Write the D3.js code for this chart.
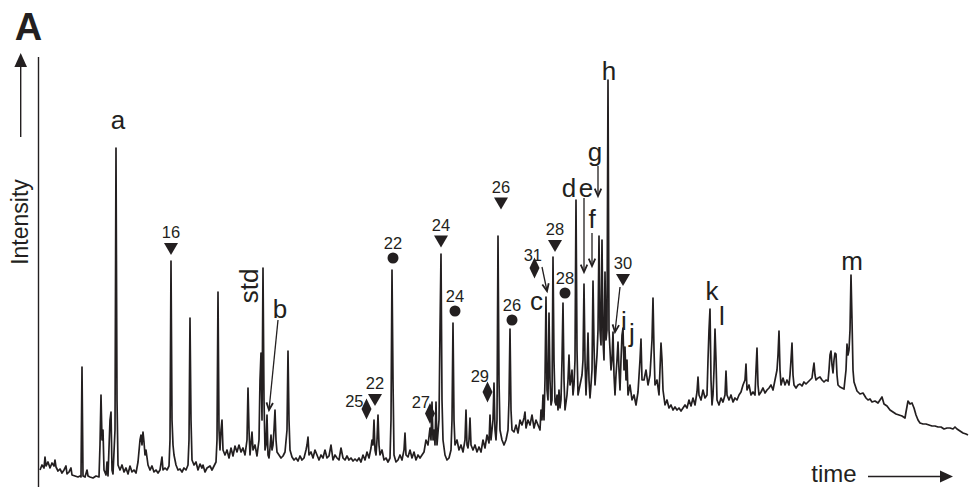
<!DOCTYPE html>
<html><head><meta charset="utf-8">
<script src="https://cdn.jsdelivr.net/npm/d3@7"></script>
<style>
body{margin:0;background:#fff}
svg{display:block}
text{font-family:"Liberation Sans",Arial,Helvetica,sans-serif;fill:#231f20}
</style>
</head><body>
<svg id="chart" width="975" height="489"></svg>
<script>
// Chromatogram trace: [retention time (scan units), intensity (a.u.)]
const trace = [
[2,20],[4,25],[6,22],[7,33],[8,24],[10,28],[12,22],[14,27],[16,24],[17,30],[18,23],[20,19],[22,21],[24,17],[26,20],[28,24],[29,16],[31,18],[33,22],[34,15],[37,14],[40,13],[42,14],[43,13],[44,123],[45,14],[47,13],[49,20],[50,14],[52,13],[55,12],[58,14],[61,13],[62,45],[63,95],[64,50],[65,60],[66,20],[68,15],[69,28],[70,14],[72,70],[73,78],[74,20],[75,16],[77,60],[78,342],[79,90],[80,25],[82,20],[84,25],[86,18],[88,22],[90,16],[92,24],[94,18],[96,20],[98,17],[100,28],[102,50],[103,55],[104,45],[105,58],[106,48],[107,35],[108,40],[110,25],[112,20],[114,24],[116,18],[118,20],[120,17],[122,20],[124,33],[125,20],[127,22],[129,20],[131,24],[132,50],[133,229],[134,70],[135,45],[136,35],[138,25],[140,20],[142,21],[144,18],[146,22],[148,20],[150,25],[151,50],[152,172],[153,70],[154,30],[156,25],[158,28],[160,20],[162,26],[164,22],[165,25],[167,18],[169,22],[172,24],[174,20],[176,24],[178,28],[179,50],[180,198],[181,60],[182,40],[183,60],[184,70],[185,40],[187,35],[189,40],[191,32],[193,42],[195,34],[197,44],[199,38],[201,45],[203,38],[205,42],[207,35],[209,50],[210,102],[211,60],[212,35],[214,58],[215,40],[217,45],[219,34],[221,50],[222,110],[223,137],[224,70],[225,222],[226,90],[227,40],[228,45],[229,75],[230,35],[231,32],[232,42],[233,55],[234,40],[235,45],[236,60],[237,80],[238,50],[239,38],[241,35],[243,32],[245,34],[247,38],[249,60],[250,139],[251,70],[252,40],[254,33],[256,30],[258,32],[260,29],[262,34],[264,30],[266,32],[268,40],[269,45],[270,53],[271,35],[273,38],[275,32],[277,40],[279,35],[281,30],[283,35],[285,32],[287,40],[289,32],[291,34],[293,45],[295,30],[297,35],[299,32],[301,30],[303,42],[305,32],[307,30],[309,34],[311,30],[313,32],[315,29],[317,31],[319,29],[321,32],[323,28],[325,35],[327,30],[329,38],[331,32],[333,42],[334,50],[335,45],[336,70],[337,40],[338,35],[339,50],[340,75],[341,45],[342,35],[344,40],[346,30],[348,32],[350,28],[352,32],[353,70],[354,220],[355,110],[356,35],[358,28],[360,30],[362,35],[364,30],[366,40],[367,57],[368,35],[370,33],[372,40],[374,32],[376,38],[378,30],[380,35],[382,32],[384,35],[386,38],[388,50],[390,45],[392,62],[393,50],[394,88],[395,50],[396,60],[397,45],[398,88],[399,45],[401,70],[402,160],[403,236],[404,90],[405,50],[407,35],[409,30],[411,32],[413,40],[414,70],[415,167],[416,70],[417,45],[419,50],[421,40],[423,45],[425,38],[427,50],[428,80],[429,45],[430,42],[431,50],[432,72],[433,45],[435,40],[437,45],[439,38],[441,43],[443,38],[445,50],[447,42],[449,55],[451,47],[452,75],[453,50],[454,60],[455,70],[456,107],[457,60],[458,50],[459,70],[460,254],[461,110],[462,60],[464,50],[466,45],[468,50],[470,60],[471,90],[472,161],[473,80],[474,60],[476,58],[478,65],[480,57],[482,70],[484,65],[486,72],[487,78],[488,62],[490,70],[492,65],[494,75],[496,62],[498,70],[500,65],[502,60],[503,80],[504,70],[505,95],[506,70],[507,110],[508,193],[509,100],[510,90],[511,177],[512,110],[513,85],[514,90],[515,233],[516,130],[517,88],[518,85],[519,95],[520,80],[521,100],[522,82],[523,90],[524,130],[525,187],[526,110],[527,80],[529,95],[530,110],[531,135],[532,105],[533,110],[534,120],[535,95],[536,105],[537,130],[538,290],[539,140],[540,95],[541,100],[542,105],[544,115],[545,130],[546,206],[547,130],[548,95],[549,120],[550,157],[551,110],[552,92],[553,105],[554,120],[555,209],[556,145],[557,105],[558,120],[559,135],[560,160],[561,254],[562,160],[563,145],[564,250],[565,150],[566,130],[567,218],[568,150],[569,160],[570,410],[571,160],[572,140],[573,120],[574,130],[575,158],[576,115],[577,95],[578,115],[579,130],[580,148],[581,120],[582,100],[583,130],[584,155],[585,162],[586,120],[587,143],[588,110],[589,130],[590,95],[592,105],[594,90],[596,95],[598,85],[600,98],[602,130],[603,151],[604,110],[606,110],[608,120],[610,105],[612,115],[614,150],[615,192],[616,140],[617,105],[619,110],[621,95],[623,147],[624,130],[625,100],[627,85],[629,90],[631,82],[633,85],[635,80],[637,83],[639,80],[641,82],[643,79],[645,82],[647,85],[649,82],[651,90],[653,84],[655,92],[657,85],[659,98],[660,113],[661,95],[663,90],[665,100],[667,92],[669,95],[670,130],[671,160],[672,181],[673,110],[674,85],[675,95],[676,120],[677,161],[678,130],[679,90],[681,85],[683,92],[685,88],[687,95],[688,119],[689,95],[691,90],[693,95],[695,88],[697,92],[699,90],[701,95],[703,98],[705,105],[707,110],[708,126],[709,100],[711,105],[713,95],[715,98],[717,95],[718,120],[719,142],[720,105],[721,95],[723,98],[725,102],[727,97],[729,100],[731,102],[733,105],[735,100],[737,110],[739,120],[740,135],[741,159],[742,120],[743,105],[745,112],[747,105],[749,110],[751,105],[752,115],[753,130],[754,147],[755,115],[756,105],[758,102],[760,105],[762,106],[764,104],[766,108],[768,106],[770,108],[772,110],[774,112],[775,120],[776,127],[777,115],[778,110],[780,112],[782,113],[784,110],[786,108],[788,110],[790,109],[791,120],[792,135],[793,139],[794,125],[795,117],[796,130],[797,137],[798,136],[799,115],[800,105],[802,103],[804,102],[806,101],[808,120],[809,146],[810,135],[811,140],[812,160],[813,215],[814,170],[815,120],[816,108],[817,105],[819,99],[822,96],[825,97],[828,92],[830,90],[832,91],[834,88],[837,89],[840,87],[842,90],[844,93],[846,86],[849,84],[852,80],[855,78],[858,76],[861,75],[864,74],[867,72],[868,78],[870,89],[872,86],[874,87],[876,82],[878,75],[880,70],[882,67],[885,66],[888,66],[891,65],[894,64],[897,64],[900,63],[903,63],[906,61],[909,62],[912,62],[915,61],[917,63],[919,61],[922,59],[925,57],[928,56],[930,55]
];

// Homologous series markers: carbon number, series symbol, marker position (time, intensity)
const seriesLabels = ["16","22","24","24","26","26","28","28","30","22","25","27","29","31"];
const seriesShapes = ["tri","dot","tri","dot","tri","dot","tri","dot","tri","tri","dia","dia","dia","dia"];
const seriesTime   = [133, 355, 403, 417, 463, 474, 517, 527, 585, 337, 328.5, 392, 449.5, 496.5];
const seriesInt    = [241, 232, 248.5, 179, 286.5, 170, 244, 197, 210, 90, 81, 76.5, 98, 222];

// Letter peak labels: label, time, intensity
const peakNames = ["a","b","c","d","e","f","g","h","i","j","k","l","m"];
const peakTime  = [80, 242, 498.5, 531, 548, 554, 557, 571, 586, 594, 674, 684, 814];
const peakInt   = [361, 172, 180, 293, 293, 262, 329, 410, 160, 148, 190, 165, 220];

// Arrows pointing to peaks: [time, intensity] start -> end
const arrowFrom = [[240,170],[504,223],[546,292],[554,257],[560,324],[582,203]];
const arrowTo   = [[231,80],[509,199],[546,218],[554,224],[560,294],[577,158]];

// internal standard label
const stdLabel = {text:"std", t:220, i:204};

const svg = d3.select("#chart");
const ink = "#231f20";
const x = d3.scaleLinear().domain([0, 930]).range([38, 968]);
const y = d3.scaleLinear().domain([0, 420]).range([490, 70]);

// axis line
svg.append("line").attr("x1", 38.5).attr("x2", 38.5).attr("y1", 57).attr("y2", 487)
  .attr("stroke", ink).attr("stroke-width", 1.4);

// trace
svg.append("path").datum(trace)
  .attr("d", d3.line().x(d => x(d[0])).y(d => y(d[1])))
  .attr("fill", "none").attr("stroke", ink).attr("stroke-width", 1.7)
  .attr("stroke-linejoin", "round");

// series markers
const shapePath = {
  tri: "M-7,-6L7,-6L0,6Z",
  dia: "M0,-10.5L5,0L0,10.5L-5,0Z"
};
const diaLayout = {"25":[-3,-2], "27":[0,-6], "29":[1.5,-10], "31":[7.5,-7]};
seriesLabels.forEach((lab, k) => {
  const cx = x(seriesTime[k]), cy = y(seriesInt[k]);
  const sh = seriesShapes[k];
  if (sh === "dot") {
    svg.append("circle").attr("cx", cx).attr("cy", cy).attr("r", 5.5).attr("fill", ink);
    svg.append("text").attr("x", cx).attr("y", cy - 9.5).attr("text-anchor", "middle")
      .attr("font-size", 16.5).text(lab);
  } else if (sh === "tri") {
    svg.append("path").attr("d", shapePath.tri).attr("transform", `translate(${cx},${cy})`).attr("fill", ink);
    svg.append("text").attr("x", cx).attr("y", cy - 11).attr("text-anchor", "middle")
      .attr("font-size", 16.5).text(lab);
  } else {
    svg.append("path").attr("d", shapePath.dia).attr("transform", `translate(${cx},${cy})`).attr("fill", ink);
    const o = diaLayout[lab];
    svg.append("text").attr("x", cx + o[0]).attr("y", cy + o[1]).attr("text-anchor", "end")
      .attr("font-size", 16.5).text(lab);
  }
});

// letter labels
peakNames.forEach((n, k) => {
  svg.append("text").attr("x", x(peakTime[k])).attr("y", y(peakInt[k]))
    .attr("text-anchor", "middle").attr("font-size", 26).text(n);
});

// std rotated label
svg.append("text")
  .attr("transform", `translate(${x(stdLabel.t)},${y(stdLabel.i)}) rotate(-90)`)
  .attr("text-anchor", "middle").attr("font-size", 26).text(stdLabel.text);

// arrows with chevron heads
arrowFrom.forEach((f, k) => {
  const x1 = x(f[0]), y1 = y(f[1]), x2 = x(arrowTo[k][0]), y2 = y(arrowTo[k][1]);
  svg.append("line").attr("x1", x1).attr("y1", y1).attr("x2", x2).attr("y2", y2)
    .attr("stroke", ink).attr("stroke-width", 1.3);
  const ang = Math.atan2(y1 - y2, x1 - x2), L = 8, a = 0.42;
  const p1 = [x2 + L * Math.cos(ang + a), y2 + L * Math.sin(ang + a)];
  const p2 = [x2 + L * Math.cos(ang - a), y2 + L * Math.sin(ang - a)];
  svg.append("path").attr("d", `M${p1[0]},${p1[1]}L${x2},${y2}L${p2[0]},${p2[1]}`)
    .attr("fill", "none").attr("stroke", ink).attr("stroke-width", 1.8);
});

// panel letter
svg.append("text").attr("x", 28.5).attr("y", 40).attr("text-anchor", "middle")
  .attr("font-size", 38).attr("font-weight", "bold").text("A");

// Intensity axis title with arrow
svg.append("text").attr("transform", "translate(28,222) rotate(-90)")
  .attr("text-anchor", "middle").attr("font-size", 23).text("Intensity");
svg.append("line").attr("x1", 20.7).attr("x2", 20.7).attr("y1", 137).attr("y2", 64)
  .attr("stroke", ink).attr("stroke-width", 1.4);
svg.append("path").attr("d", "M20.7,53L27,67L14.4,67Z").attr("fill", ink);

// time axis title with arrow
svg.append("text").attr("x", 834).attr("y", 482).attr("text-anchor", "middle")
  .attr("font-size", 24).text("time");
svg.append("line").attr("x1", 868).attr("x2", 943).attr("y1", 476.5).attr("y2", 476.5)
  .attr("stroke", ink).attr("stroke-width", 1.6);
svg.append("path").attr("d", "M953,476.5L940,470.5L940,482.5Z").attr("fill", ink);
</script>
</body></html>
